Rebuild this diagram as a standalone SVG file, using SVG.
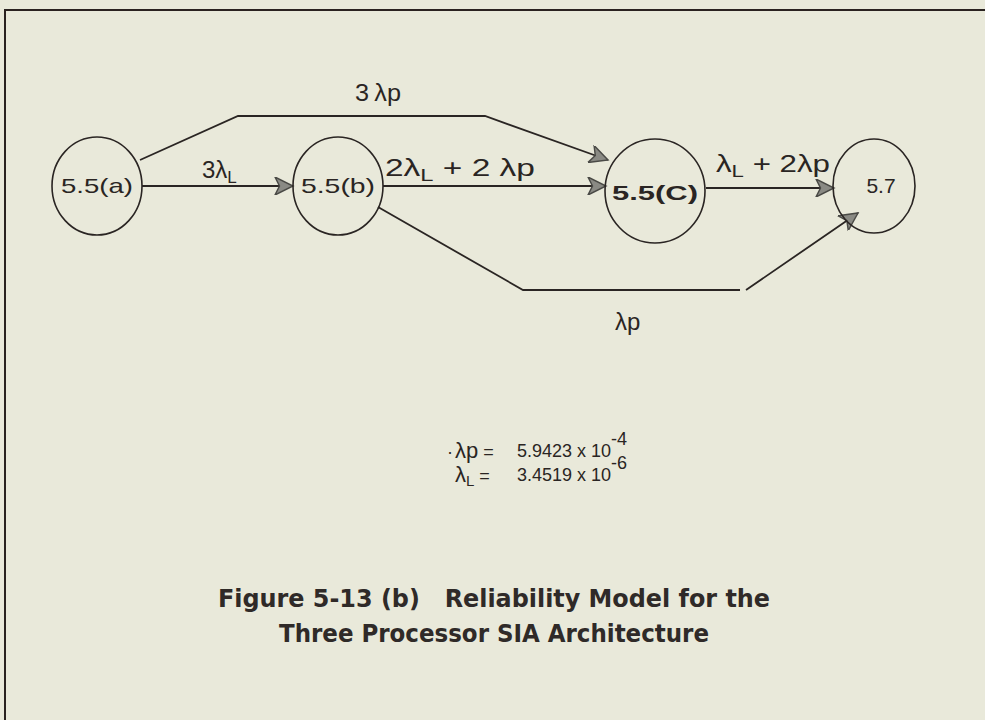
<svg xmlns="http://www.w3.org/2000/svg" width="985" height="720" viewBox="0 0 985 720">
<defs>
<style>
.bg{fill:#e9e9da}
.frame{stroke:#2a2220;stroke-width:2;fill:none}
.node{fill:none;stroke:#2a2523;stroke-width:1.6}
.edge{fill:none;stroke:#2a2523;stroke-width:1.8}
.lbl{font-family:"Liberation Sans",Arial,sans-serif;font-size:24px;fill:#2a2523}
.nlbl{font-family:"Liberation Sans",Arial,sans-serif;font-size:21px;fill:#2a2523;text-anchor:middle}
.leg{font-family:"Liberation Sans",Arial,sans-serif;font-size:18px;fill:#2a2523}
.cap{font-family:"DejaVu Sans Condensed","Liberation Sans",sans-serif;font-weight:bold;font-size:24px;fill:#2f2a28;text-anchor:middle;white-space:pre}
</style>
<marker id="ah" viewBox="0 0 10 10" refX="10" refY="5" markerWidth="22" markerHeight="18" markerUnits="userSpaceOnUse" orient="auto">
<path d="M0,0 L10,5 L0,10 L2.5,5 Z" fill="#8a8a84" stroke="#4a4a46" stroke-width="0.8"/>
</marker>
</defs>
<rect class="bg" x="0" y="0" width="985" height="720"/>
<path class="frame" d="M5,720 L5,10 L985,10"/>

<g id="connectors">
<path class="edge" d="M142,186 L293,186" marker-end="url(#ah)"/>
<path class="edge" d="M140,160 L238,116 L485,116 L608,160" marker-end="url(#ah)"/>
<path class="edge" d="M383,186 L606,186" marker-end="url(#ah)"/>
<path class="edge" d="M706,188 L834,188" marker-end="url(#ah)"/>
<path class="edge" d="M378,207 L523,290 L740,290 M746,290 L858,213" marker-end="url(#ah)"/>
<text class="lbl" x="355" y="101" textLength="46" lengthAdjust="spacingAndGlyphs">3<tspan dx="5">λ</tspan>p</text>
<text class="lbl" x="202" y="178">3λ<tspan font-size="17" dy="5">L</tspan></text>
<text class="lbl" x="385" y="176" textLength="150" lengthAdjust="spacingAndGlyphs">2λ<tspan font-size="17" dy="5">L</tspan><tspan dy="-5"> + 2 λp</tspan></text>
<text class="lbl" x="716" y="172" textLength="114" lengthAdjust="spacingAndGlyphs">λ<tspan font-size="17" dy="5">L</tspan><tspan dy="-5"> + 2λp</tspan></text>
<text class="lbl" x="615" y="330">λp</text>
</g>

<g id="node-a">
<ellipse class="node" cx="97" cy="186" rx="45" ry="49"/>
<text class="nlbl" x="97" y="193" textLength="72" lengthAdjust="spacingAndGlyphs">5.5(a)</text>
</g>
<g id="node-b">
<ellipse class="node" cx="338" cy="186" rx="45" ry="49"/>
<text class="nlbl" x="338" y="193" textLength="74" lengthAdjust="spacingAndGlyphs">5.5(b)</text>
</g>
<g id="node-c">
<ellipse class="node" cx="655" cy="191" rx="50" ry="52"/>
<text class="nlbl" x="655" y="200" font-weight="bold" font-size="22" textLength="86" lengthAdjust="spacingAndGlyphs">5.5(C)</text>
</g>
<g id="node-57">
<ellipse class="node" cx="874" cy="186" rx="41" ry="47"/>
<text class="nlbl" x="881" y="193">5.7</text>
</g>

<g id="legend">
<text class="leg" x="447" y="458">·</text>
<text class="leg" x="455" y="458"><tspan font-size="22">λp</tspan> =</text>
<text class="leg" x="517" y="457">5.9423 x 10<tspan dy="-12">-4</tspan></text>
<text class="leg" x="455" y="482"><tspan font-size="22">λ</tspan><tspan font-size="15" dy="4">L</tspan><tspan dy="-4"> =</tspan></text>
<text class="leg" x="517" y="481">3.4519 x 10<tspan dy="-12">-6</tspan></text>
</g>

<g id="caption">
<text class="cap" x="494" y="607" textLength="552" lengthAdjust="spacingAndGlyphs" xml:space="preserve">Figure 5-13 (b)   Reliability Model for the</text>
<text class="cap" x="494" y="642" textLength="430" lengthAdjust="spacingAndGlyphs">Three Processor SIA Architecture</text>
</g>
</svg>
